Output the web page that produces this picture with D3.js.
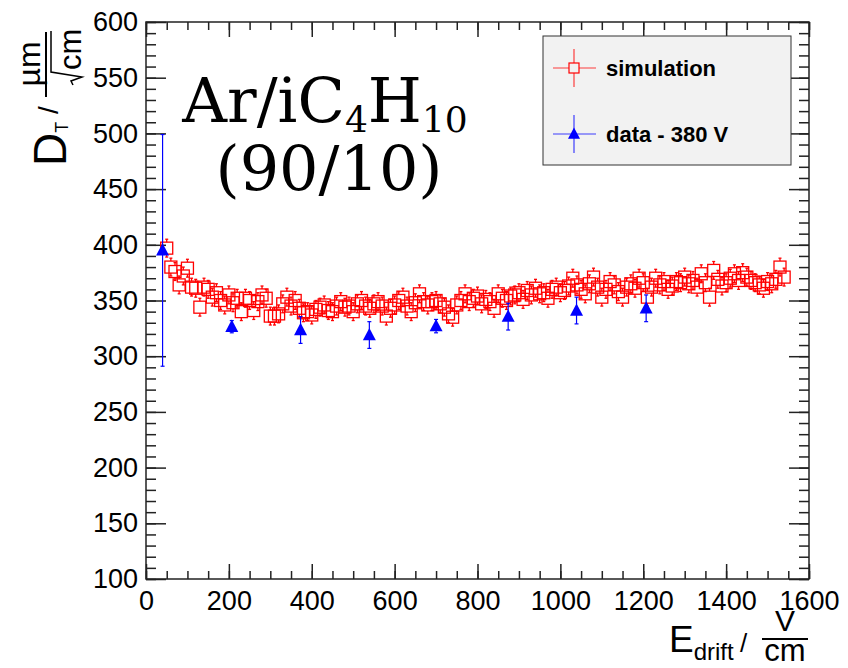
<!DOCTYPE html>
<html>
<head>
<meta charset="utf-8">
<script src="https://cdn.jsdelivr.net/npm/d3@7"></script>
<style>
  body { margin: 0; background: #fff; }
  text { font-family: "Liberation Sans", Arial, sans-serif; }
</style>
</head>
<body>
<script>
// simulation: drift field (V/cm) and transverse diffusion (um/sqrt(cm))
const simE = [
  50, 60, 70, 80, 90, 100, 110, 120, 130, 140, 150, 160, 170, 180, 190, 200,
  210, 220, 230, 240, 250, 260, 270, 280, 290, 300, 310, 320, 330, 340, 350,
  360, 370, 380, 390, 400, 410, 420, 430, 440, 450, 460, 470, 480, 490, 500,
  510, 520, 530, 540, 550, 560, 570, 580, 590, 600, 610, 620, 630, 640, 650,
  660, 670, 680, 690, 700, 710, 720, 730, 740, 750, 760, 770, 780, 790, 800,
  810, 820, 830, 840, 850, 860, 870, 880, 890, 900, 910, 920, 930, 940, 950,
  960, 970, 980, 990, 1000, 1010, 1020, 1030, 1040, 1050, 1060, 1070, 1080,
  1090, 1100, 1110, 1120, 1130, 1140, 1150, 1160, 1170, 1180, 1190, 1200,
  1210, 1220, 1230, 1240, 1250, 1260, 1270, 1280, 1290, 1300, 1310, 1320,
  1330, 1340, 1350, 1360, 1370, 1380, 1390, 1400, 1410, 1420, 1430, 1440,
  1450, 1460, 1470, 1480, 1490, 1500, 1510, 1520, 1530, 1540
];
const simDT = [
  397, 380, 376, 364, 372, 379, 362, 361, 344, 362, 360, 353, 357, 350, 346, 355,
  348, 352, 340, 352, 350, 341, 349, 355, 352, 336, 336, 338, 347, 353, 345,
  350, 343, 339, 340, 337, 342, 344, 346, 341, 340, 345, 349, 344, 345, 340,
  347, 350, 345, 343, 347, 349, 345, 336, 343, 346, 350, 353, 345, 340, 348,
  356, 349, 346, 349, 350, 347, 344, 338, 335, 346, 350, 356, 349, 352, 354,
  347, 351, 349, 343, 356, 352, 350, 354, 355, 357, 351, 359, 355, 361, 356,
  357, 352, 360, 362, 357, 359, 363, 370, 364, 360, 356, 365, 371,
  362, 353, 360, 367, 364, 358, 353, 362, 365, 361, 370, 366,
  353, 362, 370, 364, 367, 360, 363, 367, 366, 371, 365, 368,
  362, 374, 366, 353, 377, 369, 363, 366, 370, 374, 368, 375,
  371, 368, 366, 364, 361, 367, 365, 369, 380, 371
];
const simErr = 8;

// measurement at 380 V
const dataE = [40, 207, 373, 539, 700, 874, 1039, 1207];
const dataDT = [395, 326.5, 323.5, 319, 327, 335.5, 341, 343];
const dataErr = [104, 5.5, 12, 12, 6, 12, 12, 12];

const xTicks = [0, 200, 400, 600, 800, 1000, 1200, 1400, 1600];
const yTicks = [100, 150, 200, 250, 300, 350, 400, 450, 500, 550, 600];

const legendLabels = ["simulation", "data - 380 V"];

const width = 848;
const height = 668;
const plotL = 146, plotR = 809, plotT = 22, plotB = 579;

const svg = d3.select("body").append("svg")
  .attr("width", width)
  .attr("height", height);

const x = d3.scaleLinear().domain([0, 1600]).range([plotL, plotR]);
const y = d3.scaleLinear().domain([100, 600]).range([plotB, plotT]);

const xMinor = d3.range(0, 1601, 50);
const yMinor = d3.range(100, 601, 10);

// axes, ROOT style: ticks point inward on all four sides
const axisColor = "#222";
const styleAxis = (g) => {
  g.select(".domain").remove();
  g.selectAll("line").attr("stroke", axisColor).attr("stroke-width", 1.5);
  g.selectAll("text").attr("fill", "#000").style("font-size", "27px");
};

svg.append("g").attr("transform", `translate(${plotL},0)`)
  .call(d3.axisLeft(y).tickValues(yMinor).tickSize(-10).tickFormat(""))
  .call(styleAxis);
svg.append("g").attr("transform", `translate(${plotL},0)`)
  .call(d3.axisLeft(y).tickValues(yTicks).tickSize(-20).tickPadding(8).tickFormat(d3.format("d")))
  .call(styleAxis);
svg.append("g").attr("transform", `translate(${plotR},0)`)
  .call(d3.axisRight(y).tickValues(yMinor).tickSize(-10).tickFormat(""))
  .call(styleAxis);
svg.append("g").attr("transform", `translate(${plotR},0)`)
  .call(d3.axisRight(y).tickValues(yTicks).tickSize(-20).tickFormat(""))
  .call(styleAxis);

svg.append("g").attr("transform", `translate(0,${plotB})`)
  .call(d3.axisBottom(x).tickValues(xMinor).tickSize(-8).tickFormat(""))
  .call(styleAxis);
svg.append("g").attr("transform", `translate(0,${plotB})`)
  .call(d3.axisBottom(x).tickValues(xTicks).tickSize(-15).tickPadding(12).tickFormat(d3.format("d")))
  .call(styleAxis);
svg.append("g").attr("transform", `translate(0,${plotT})`)
  .call(d3.axisTop(x).tickValues(xMinor).tickSize(-8).tickFormat(""))
  .call(styleAxis);
svg.append("g").attr("transform", `translate(0,${plotT})`)
  .call(d3.axisTop(x).tickValues(xTicks).tickSize(-15).tickFormat(""))
  .call(styleAxis);

svg.append("rect")
  .attr("x", plotL).attr("y", plotT)
  .attr("width", plotR - plotL).attr("height", plotB - plotT)
  .attr("fill", "none").attr("stroke", axisColor).attr("stroke-width", 1.5);

// simulation points: open squares with error bars outside the marker
const half = 6;
const sim = svg.append("g").attr("stroke", "#ff0000").attr("stroke-width", 1.3).attr("fill", "none");
simE.forEach((e, i) => {
  const cx = x(e), cy = y(simDT[i]);
  const yHi = y(simDT[i] + simErr), yLo = y(simDT[i] - simErr);
  sim.append("line").attr("x1", cx).attr("x2", cx).attr("y1", yHi).attr("y2", cy - half);
  sim.append("line").attr("x1", cx).attr("x2", cx).attr("y1", cy + half).attr("y2", yLo);
  sim.append("line").attr("x1", cx - 1.5).attr("x2", cx + 1.5).attr("y1", yHi).attr("y2", yHi);
  sim.append("line").attr("x1", cx - 1.5).attr("x2", cx + 1.5).attr("y1", yLo).attr("y2", yLo);
  sim.append("rect").attr("x", cx - half).attr("y", cy - half)
    .attr("width", 2 * half).attr("height", 2 * half);
});

// data points: filled triangles
const triangle = (cx, cy, s) =>
  `M${cx},${cy - s * 0.55} L${cx + s / 2},${cy + s * 0.4} L${cx - s / 2},${cy + s * 0.4} Z`;

const dat = svg.append("g");
dataE.forEach((e, i) => {
  const cx = x(e), cy = y(dataDT[i]);
  const yHi = y(dataDT[i] + dataErr[i]), yLo = y(dataDT[i] - dataErr[i]);
  dat.append("line").attr("x1", cx).attr("x2", cx).attr("y1", yHi).attr("y2", yLo)
    .attr("stroke", "#0000ff").attr("stroke-width", 1.2);
  [yHi, yLo].forEach((yy) => {
    dat.append("line").attr("x1", cx - 2).attr("x2", cx + 2).attr("y1", yy).attr("y2", yy)
      .attr("stroke", "#0000ff").attr("stroke-width", 1.2);
  });
  dat.append("path").attr("d", triangle(cx, cy, 13)).attr("fill", "#0000ff");
});

// legend
const legend = svg.append("g");
legend.append("rect")
  .attr("x", 543).attr("y", 36).attr("width", 248).attr("height", 129)
  .attr("fill", "#f2f2f2").attr("stroke", "#333").attr("stroke-width", 1);

const legendY = [68, 134];
legendLabels.forEach((label, i) => {
  const ly = legendY[i];
  const col = i === 0 ? "#ff0000" : "#0000ff";
  legend.append("line").attr("x1", 553).attr("x2", 596).attr("y1", ly).attr("y2", ly)
    .attr("stroke", col).attr("stroke-width", 1.2).attr("opacity", 0.75);
  legend.append("line").attr("x1", 574).attr("x2", 574).attr("y1", ly - 19).attr("y2", ly + 19)
    .attr("stroke", col).attr("stroke-width", 1.2).attr("opacity", 0.75);
  if (i === 0) {
    legend.append("rect").attr("x", 574 - 5).attr("y", ly - 5).attr("width", 10).attr("height", 10)
      .attr("fill", "#f2f2f2").attr("stroke", col).attr("stroke-width", 1.2);
  } else {
    legend.append("path").attr("d", triangle(574, ly, 12)).attr("fill", col);
  }
  legend.append("text").attr("x", 606).attr("y", ly + 8)
    .style("font-size", "22px").style("font-weight", "bold").text(label);
});

// gas mixture label
const serif = '"DejaVu Serif", "Liberation Serif", serif';
const gas = svg.append("text").attr("x", 325).attr("y", 122).attr("text-anchor", "middle")
  .style("font-family", serif).style("font-size", "62px");
gas.append("tspan").text("Ar/iC");
gas.append("tspan").attr("dy", 10).style("font-size", "36px").text("4");
gas.append("tspan").attr("dy", -10).text("H");
gas.append("tspan").attr("dy", 10).style("font-size", "36px").text("10");

svg.append("text").attr("x", 329).attr("y", 190).attr("text-anchor", "middle")
  .style("font-family", serif).style("font-size", "62px").text("(90/10)");

// y title: D_T / um / sqrt(cm), rotated
const yt = svg.append("g").attr("transform", "rotate(-90)");
const dt = yt.append("text").attr("x", -166).attr("y", 66).style("font-size", "46px");
dt.append("tspan").text("D");
dt.append("tspan").attr("dy", 2).style("font-size", "18px").text("T");
yt.append("text").attr("x", -114).attr("y", 58).style("font-size", "28px").text("/");
yt.append("text").attr("x", -64).attr("y", 40).attr("text-anchor", "middle")
  .style("font-size", "32px").text("\u00b5m");
yt.append("line").attr("x1", -97).attr("x2", -32).attr("y1", 46).attr("y2", 46)
  .attr("stroke", "#000").attr("stroke-width", 2);
yt.append("path").attr("d", "M-85,73 L-81,71 L-77,82 L-72,51 L-31,51")
  .attr("fill", "none").attr("stroke", "#000").attr("stroke-width", 1.5);
yt.append("text").attr("x", -70).attr("y", 81).style("font-size", "31px").text("cm");

// x title: E_drift / V / cm
const et = svg.append("text").attr("x", 669).attr("y", 652).style("font-size", "37px");
et.append("tspan").text("E");
et.append("tspan").attr("dy", 8).style("font-size", "24px").text("drift");
svg.append("text").attr("x", 740).attr("y", 652).style("font-size", "26px").text("/");
svg.append("text").attr("x", 785).attr("y", 631).attr("text-anchor", "middle")
  .style("font-size", "30px").text("V");
svg.append("line").attr("x1", 762).attr("x2", 808).attr("y1", 639).attr("y2", 639)
  .attr("stroke", "#000").attr("stroke-width", 2);
svg.append("text").attr("x", 785).attr("y", 661).attr("text-anchor", "middle")
  .style("font-size", "31px").text("cm");
</script>
</body>
</html>
